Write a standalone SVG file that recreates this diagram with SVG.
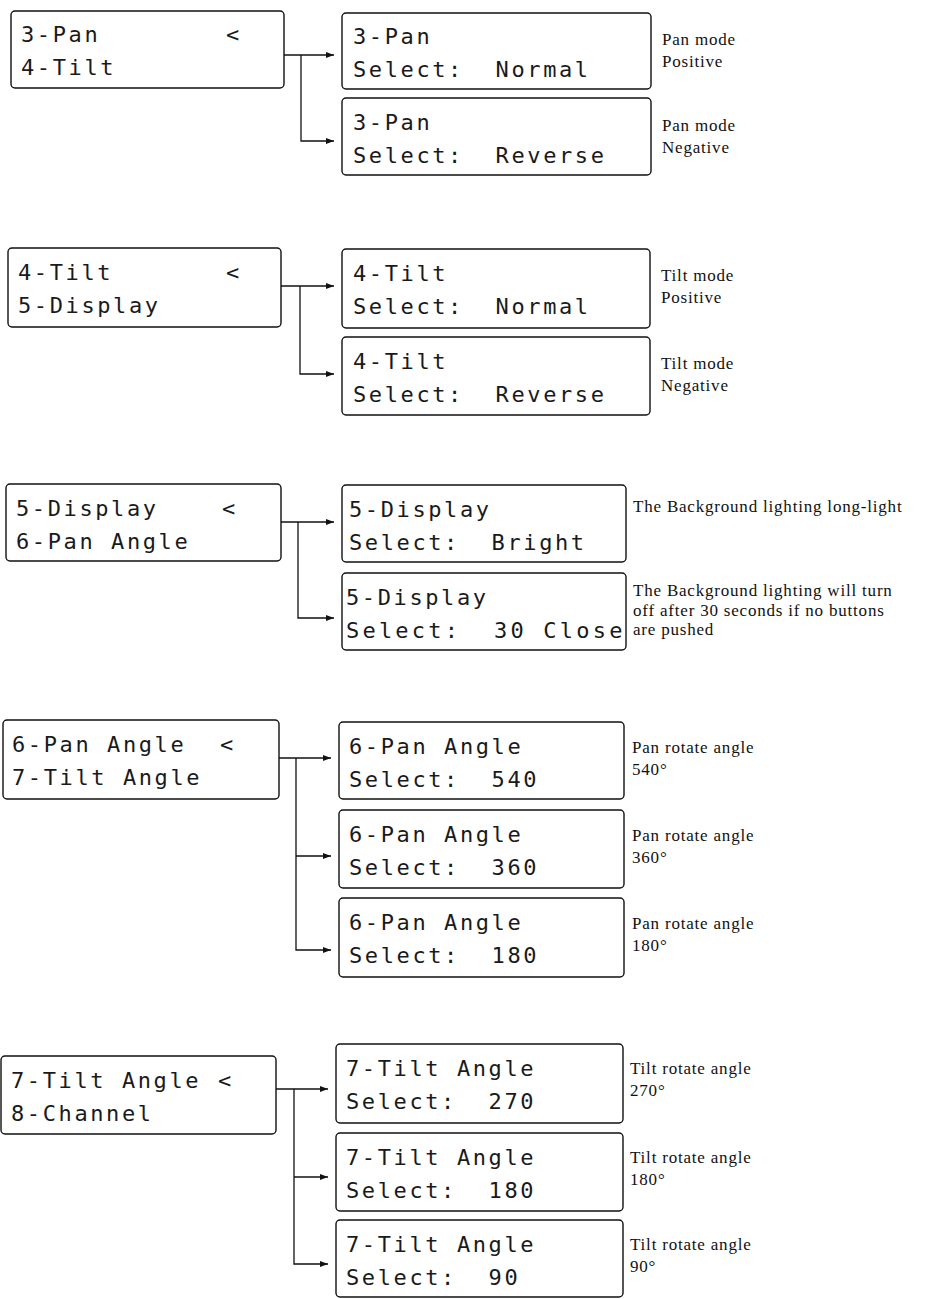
<svg xmlns="http://www.w3.org/2000/svg" width="934" height="1299" viewBox="0 0 934 1299">
<style>
.box{fill:#fff;stroke:#111;stroke-width:1.4}
.lcd{font-family:"DejaVu Sans Mono",monospace;font-size:22px;letter-spacing:2.6px;fill:#1a1a1a}
.note{font-family:"Liberation Serif",serif;font-size:17px;letter-spacing:0.8px;fill:#111}
.wire{fill:none;stroke:#111;stroke-width:1.3}
</style>
<defs>
<marker id="arr" markerUnits="userSpaceOnUse" markerWidth="8" markerHeight="6" refX="8" refY="3" orient="auto">
<path d="M0,0 L8,3 L0,6 z" fill="#111"/>
</marker>
</defs>
<rect width="934" height="1299" fill="#fff"/>

<g id="connectors">
<path class="wire" marker-end="url(#arr)" d="M284,55 H334"/>
<path class="wire" marker-end="url(#arr)" d="M301,55 V141 H334"/>
<path class="wire" marker-end="url(#arr)" d="M281,286 H334"/>
<path class="wire" marker-end="url(#arr)" d="M300,286 V374 H334"/>
<path class="wire" marker-end="url(#arr)" d="M281,522 H334"/>
<path class="wire" marker-end="url(#arr)" d="M298,522 V618 H334"/>
<path class="wire" marker-end="url(#arr)" d="M279,758 H331"/>
<path class="wire" marker-end="url(#arr)" d="M296,758 V950 H331"/>
<path class="wire" marker-end="url(#arr)" d="M296,856 H331"/>
<path class="wire" marker-end="url(#arr)" d="M276,1089 H328"/>
<path class="wire" marker-end="url(#arr)" d="M294,1089 V1264 H328"/>
<path class="wire" marker-end="url(#arr)" d="M294,1177 H328"/>
</g>

<!-- Section 1 -->
<g id="menu-pan">
<rect class="box" x="11" y="11" width="273" height="77" rx="4"/>
<text class="lcd" x="21" y="42">3-Pan<tspan x="226">&lt;</tspan></text>
<text class="lcd" x="21" y="75">4-Tilt</text>
</g>
<g id="pan-normal">
<rect class="box" x="342" y="13" width="309" height="76" rx="4"/>
<text class="lcd" x="353" y="44">3-Pan</text>
<text class="lcd" x="353" y="77" xml:space="preserve">Select:  Normal</text>
<text class="note" x="662" y="45">Pan mode</text>
<text class="note" x="662" y="67">Positive</text>
</g>
<g id="pan-reverse">
<rect class="box" x="342" y="98" width="309" height="77" rx="4"/>
<text class="lcd" x="353" y="130">3-Pan</text>
<text class="lcd" x="353" y="163" xml:space="preserve">Select:  Reverse</text>
<text class="note" x="662" y="131">Pan mode</text>
<text class="note" x="662" y="153">Negative</text>
</g>

<!-- Section 2 -->
<g id="menu-tilt">
<rect class="box" x="8" y="248" width="273" height="79" rx="4"/>
<text class="lcd" x="18" y="280">4-Tilt<tspan x="226">&lt;</tspan></text>
<text class="lcd" x="18" y="313">5-Display</text>
</g>
<g id="tilt-normal">
<rect class="box" x="342" y="249" width="308" height="79" rx="4"/>
<text class="lcd" x="353" y="281">4-Tilt</text>
<text class="lcd" x="353" y="314" xml:space="preserve">Select:  Normal</text>
<text class="note" x="661" y="281">Tilt mode</text>
<text class="note" x="661" y="303">Positive</text>
</g>
<g id="tilt-reverse">
<rect class="box" x="342" y="337" width="308" height="78" rx="4"/>
<text class="lcd" x="353" y="369">4-Tilt</text>
<text class="lcd" x="353" y="402" xml:space="preserve">Select:  Reverse</text>
<text class="note" x="661" y="369">Tilt mode</text>
<text class="note" x="661" y="391">Negative</text>
</g>

<!-- Section 3 -->
<g id="menu-display">
<rect class="box" x="6" y="484" width="275" height="77" rx="4"/>
<text class="lcd" x="16" y="516">5-Display<tspan x="222">&lt;</tspan></text>
<text class="lcd" x="16" y="549">6-Pan Angle</text>
</g>
<g id="display-bright">
<rect class="box" x="342" y="485" width="284" height="77" rx="4"/>
<text class="lcd" x="349" y="517">5-Display</text>
<text class="lcd" x="349" y="550" xml:space="preserve">Select:  Bright</text>
<text class="note" x="633" y="512">The Background lighting long-light</text>
</g>
<g id="display-close">
<rect class="box" x="342" y="573" width="284" height="77" rx="4"/>
<text class="lcd" x="346" y="605">5-Display</text>
<text class="lcd" x="346" y="638" xml:space="preserve" textLength="279">Select:  30 Close</text>
<text class="note" x="633" y="596">The Background lighting will turn</text>
<text class="note" x="633" y="616">off after 30 seconds if no buttons</text>
<text class="note" x="633" y="635">are pushed</text>
</g>

<!-- Section 4 -->
<g id="menu-pan-angle">
<rect class="box" x="3" y="720" width="276" height="79" rx="4"/>
<text class="lcd" x="12" y="752">6-Pan Angle<tspan x="220">&lt;</tspan></text>
<text class="lcd" x="12" y="785">7-Tilt Angle</text>
</g>
<g id="pan-540">
<rect class="box" x="339" y="722" width="285" height="77" rx="4"/>
<text class="lcd" x="349" y="754">6-Pan Angle</text>
<text class="lcd" x="349" y="787" xml:space="preserve">Select:  540</text>
<text class="note" x="632" y="753">Pan rotate angle</text>
<text class="note" x="632" y="775">540°</text>
</g>
<g id="pan-360">
<rect class="box" x="339" y="810" width="285" height="78" rx="4"/>
<text class="lcd" x="349" y="842">6-Pan Angle</text>
<text class="lcd" x="349" y="875" xml:space="preserve">Select:  360</text>
<text class="note" x="632" y="841">Pan rotate angle</text>
<text class="note" x="632" y="863">360°</text>
</g>
<g id="pan-180">
<rect class="box" x="339" y="898" width="285" height="79" rx="4"/>
<text class="lcd" x="349" y="930">6-Pan Angle</text>
<text class="lcd" x="349" y="963" xml:space="preserve">Select:  180</text>
<text class="note" x="632" y="929">Pan rotate angle</text>
<text class="note" x="632" y="951">180°</text>
</g>

<!-- Section 5 -->
<g id="menu-tilt-angle">
<rect class="box" x="1" y="1056" width="275" height="78" rx="4"/>
<text class="lcd" x="11" y="1088">7-Tilt Angle<tspan x="218">&lt;</tspan></text>
<text class="lcd" x="11" y="1121">8-Channel</text>
</g>
<g id="tilt-270">
<rect class="box" x="336" y="1044" width="287" height="79" rx="4"/>
<text class="lcd" x="346" y="1076">7-Tilt Angle</text>
<text class="lcd" x="346" y="1109" xml:space="preserve">Select:  270</text>
<text class="note" x="630" y="1074">Tilt rotate angle</text>
<text class="note" x="630" y="1096">270°</text>
</g>
<g id="tilt-180">
<rect class="box" x="336" y="1133" width="287" height="78" rx="4"/>
<text class="lcd" x="346" y="1165">7-Tilt Angle</text>
<text class="lcd" x="346" y="1198" xml:space="preserve">Select:  180</text>
<text class="note" x="630" y="1163">Tilt rotate angle</text>
<text class="note" x="630" y="1185">180°</text>
</g>
<g id="tilt-90">
<rect class="box" x="336" y="1220" width="287" height="77" rx="4"/>
<text class="lcd" x="346" y="1252">7-Tilt Angle</text>
<text class="lcd" x="346" y="1285" xml:space="preserve">Select:  90</text>
<text class="note" x="630" y="1250">Tilt rotate angle</text>
<text class="note" x="630" y="1272">90°</text>
</g>
</svg>
